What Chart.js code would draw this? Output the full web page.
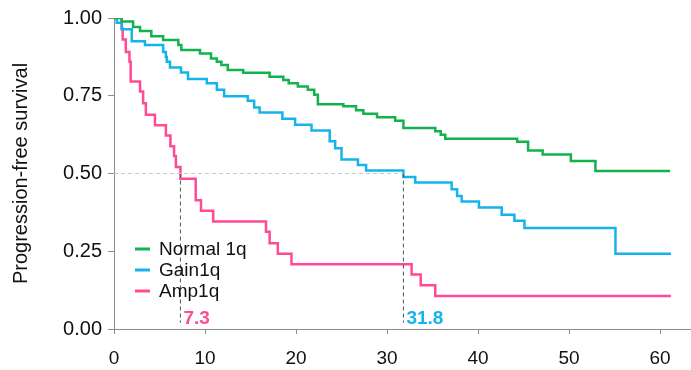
<!DOCTYPE html>
<html>
<head>
<meta charset="utf-8">
<script src="https://cdn.jsdelivr.net/npm/chart.js@4"></script>
<style>
  html, body { margin: 0; padding: 0; background: #fff; }
  #wrap { width: 691px; height: 370px; }
</style>
</head>
<body>
<div id="wrap"><canvas id="kmChart" width="691" height="370"></canvas></div>
<script>
// months / survival
const normalTimes = [0, 0.84, 2.1, 2.86, 4.1, 5.4, 7.07, 7.4, 9.45, 10.66, 11.3, 11.8, 12.5, 14.2, 17.1, 18.6, 19.2, 20.2, 21.3, 22.0, 22.4, 25.2, 26.6, 27.4, 28.9, 30.9, 31.8, 35.3, 35.9, 36.4, 44.3, 45.5, 47.1, 50.2, 52.9, 61.1];
const normalSurv = [1.0, 0.989, 0.971, 0.958, 0.941, 0.929, 0.913, 0.897, 0.886, 0.870, 0.859, 0.849, 0.833, 0.824, 0.811, 0.801, 0.790, 0.780, 0.769, 0.753, 0.723, 0.716, 0.703, 0.692, 0.681, 0.670, 0.646, 0.636, 0.625, 0.612, 0.602, 0.574, 0.561, 0.540, 0.508, 0.508];

const gainTimes = [0, 0.3, 0.85, 1.95, 3.4, 5.4, 5.7, 5.8, 6.15, 7.36, 8.13, 10.2, 11.3, 12.1, 14.7, 15.4, 16.0, 18.5, 19.9, 21.7, 23.7, 24.3, 25.0, 26.8, 27.7, 31.8, 33.1, 37.1, 37.7, 38.2, 40.1, 42.6, 44.0, 45.1, 55.1, 61.2];
const gainSurv = [1.0, 0.985, 0.964, 0.925, 0.913, 0.891, 0.875, 0.859, 0.841, 0.825, 0.804, 0.790, 0.769, 0.748, 0.734, 0.712, 0.696, 0.676, 0.657, 0.638, 0.604, 0.581, 0.545, 0.527, 0.510, 0.489, 0.471, 0.449, 0.428, 0.410, 0.391, 0.367, 0.348, 0.325, 0.242, 0.242];

const ampTimes = [0, 0.85, 0.95, 1.3, 1.7, 1.83, 2.86, 3.2, 3.5, 4.5, 5.7, 6.2, 6.6, 6.8, 7.3, 8.98, 9.56, 10.9, 16.7, 17.1, 18.0, 19.5, 32.7, 33.7, 35.3, 61.2];
const ampSurv = [1.0, 0.966, 0.931, 0.891, 0.859, 0.796, 0.764, 0.726, 0.689, 0.655, 0.622, 0.588, 0.556, 0.521, 0.483, 0.414, 0.380, 0.346, 0.313, 0.276, 0.242, 0.208, 0.175, 0.141, 0.106, 0.106];

const groupNames = ['Normal 1q', 'Gain1q', 'Amp1q'];
const medians = [null, 31.8, 7.3];
const xTicks = [0, 10, 20, 30, 40, 50, 60];
const yTicks = [0, 0.25, 0.5, 0.75, 1];

const colors = ['#12b24f', '#14b4ea', '#ff4a94'];
const FONT = "'Liberation Sans', Arial, sans-serif";

function pts(t, s) {
    return t.map((v, i) => ({ x: v, y: s[i] }));
}

const curves = [pts(normalTimes, normalSurv), pts(gainTimes, gainSurv), pts(ampTimes, ampSurv)];

const datasets = [];

// dashed median guides
const maxMedian = Math.max(...medians.filter(m => m !== null));
datasets.push({
    data: [{ x: 0, y: 0.5 }, { x: maxMedian, y: 0.5 }],
    borderColor: '#c8c8c8', borderWidth: 1, borderDash: [4, 3],
    pointRadius: 0, fill: false
});
medians.forEach(m => {
    if (m === null) return;
    datasets.push({
        data: [{ x: m, y: 0.5 }, { x: m, y: 0.02 }],
        borderColor: '#555', borderWidth: 1, borderDash: [4, 3],
        pointRadius: 0, fill: false
    });
});

curves.forEach((c, i) => {
    datasets.push({
        label: groupNames[i],
        data: c,
        borderColor: colors[i],
        borderWidth: 2.5,
        stepped: true,
        pointRadius: 0,
        fill: false
    });
});

const overlay = {
    id: 'overlay',
    afterDraw(chart) {
        const ctx = chart.ctx;
        const xs = chart.scales.x;
        ctx.save();
        // legend
        ctx.font = '19px ' + FONT;
        ctx.textBaseline = 'middle';
        groupNames.forEach((n, i) => {
            const y = 249 + i * 21;
            ctx.strokeStyle = colors[i];
            ctx.lineWidth = 3;
            ctx.beginPath();
            ctx.moveTo(135, y);
            ctx.lineTo(150, y);
            ctx.stroke();
            ctx.fillStyle = '#111';
            ctx.fillText(n, 159, y + 1);
        });
        // median labels
        ctx.font = 'bold 19px ' + FONT;
        ctx.textBaseline = 'alphabetic';
        medians.forEach((m, i) => {
            if (m === null) return;
            ctx.fillStyle = colors[i];
            ctx.fillText(String(m), xs.getPixelForValue(m) + 3, 324);
        });
        ctx.restore();
    }
};

new Chart(document.getElementById('kmChart'), {
    type: 'line',
    data: { datasets: datasets },
    options: {
        responsive: false,
        animation: false,
        events: [],
        layout: { padding: { top: 16, right: 0, left: 0, bottom: 0 } },
        plugins: { legend: { display: false }, tooltip: { enabled: false } },
        scales: {
            x: {
                type: 'linear',
                min: 0,
                max: 63.4,
                afterBuildTicks: s => { s.ticks = xTicks.map(v => ({ value: v })); },
                afterFit: s => { s.height = 41; },
                border: { display: true, color: '#8c8c8c', width: 1 },
                grid: { display: true, drawOnChartArea: false, drawTicks: true, tickLength: 5, color: '#8c8c8c' },
                ticks: { color: '#111', font: { family: FONT, size: 19 }, padding: 13, maxRotation: 0 }
            },
            y: {
                type: 'linear',
                min: 0,
                max: 1,
                afterBuildTicks: s => { s.ticks = yTicks.map(v => ({ value: v })); },
                afterFit: s => { s.width = 114; },
                border: { display: true, color: '#8c8c8c', width: 1 },
                grid: { display: true, drawOnChartArea: false, drawTicks: true, tickLength: 6, color: '#8c8c8c' },
                ticks: { color: '#111', font: { family: FONT, size: 20 }, padding: 6, callback: v => v.toFixed(2) },
                title: { display: true, text: 'Progression-free survival', color: '#111', font: { family: FONT, size: 20 }, padding: { top: 9, bottom: 0 } }
            }
        }
    },
    plugins: [overlay]
});
</script>
</body>
</html>
